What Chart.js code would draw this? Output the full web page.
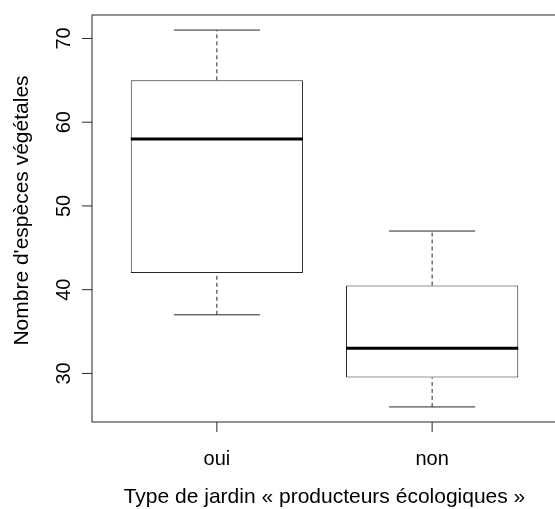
<!DOCTYPE html>
<html><head><meta charset="utf-8">
<script src="https://cdn.jsdelivr.net/npm/chart.js@4.4.1/dist/chart.umd.min.js"></script>
<style>
html,body{margin:0;padding:0;background:#fff;overflow:hidden}
#wrap{width:555px;height:509px;overflow:hidden;position:relative}
canvas{display:block}
</style>
</head><body>
<div id="wrap"><canvas id="c" width="558" height="509"></canvas></div>
<script>
// ---- data ----
const categories = ['oui', 'non'];
const minValues    = [37, 26];
const q1Values     = [42, 29.5];
const medianValues = [58, 33];
const q3Values     = [65, 40.5];
const maxValues    = [71, 47];
const yTickValues  = [30, 40, 50, 60, 70];
const yTickLabels  = ['30', '40', '50', '60', '70'];
const xTitle = 'Type de jardin « producteurs écologiques »';
const yTitle = "Nombre d'espèces végétales";

// ---- styling ----
const FONT = "'Liberation Sans', Arial, Helvetica, sans-serif";
const LINE = '#262626';
const BOX_HALF = 0.4, CAP_HALF = 0.2;

const pos = categories.map((c, i) => i + 1);
const datasets = [];
function seg(x1, y1, x2, y2, extra) {
  datasets.push(Object.assign({
    type: 'line',
    data: [{x: x1, y: y1}, {x: x2, y: y2}],
    borderColor: LINE, borderWidth: 1, pointRadius: 0,
    fill: false, tension: 0, order: 1
  }, extra || {}));
}
categories.forEach((c, i) => {
  const x = pos[i];
  seg(x, q3Values[i], x, maxValues[i], {borderDash: [4, 3]});
  seg(x, minValues[i], x, q1Values[i], {borderDash: [4, 3]});
  seg(x - CAP_HALF, maxValues[i], x + CAP_HALF, maxValues[i]);
  seg(x - CAP_HALF, minValues[i], x + CAP_HALF, minValues[i]);
  seg(x - BOX_HALF, medianValues[i], x + BOX_HALF, medianValues[i], {borderColor: '#000', borderWidth: 3, order: 0});
});
datasets.push({
  type: 'bar',
  data: categories.map((c, i) => ({x: pos[i], y: [q1Values[i], q3Values[i]]})),
  backgroundColor: '#fff', borderColor: LINE, borderWidth: 1, borderSkipped: false,
  barPercentage: 0.8, categoryPercentage: 1, order: 2
});

const axesPlugin = {
  id: 'rAxes',
  afterDraw(chart) {
    const ctx = chart.ctx, a = chart.chartArea;
    const xs = chart.scales.x, ys = chart.scales.y;
    ctx.save();
    ctx.strokeStyle = LINE; ctx.lineWidth = 1;
    ctx.strokeRect(a.left, a.top, a.right - a.left, a.bottom - a.top);
    ctx.fillStyle = '#000';
    ctx.font = '20px ' + FONT;
    // y ticks
    yTickValues.forEach((v, i) => {
      const y = ys.getPixelForValue(v);
      ctx.beginPath(); ctx.moveTo(a.left - 10, y); ctx.lineTo(a.left, y); ctx.stroke();
      ctx.save();
      ctx.translate(a.left - 22, y);
      ctx.rotate(-Math.PI / 2);
      ctx.textAlign = 'center'; ctx.textBaseline = 'alphabetic';
      ctx.fillText(yTickLabels[i], 0, 0);
      ctx.restore();
    });
    // x ticks
    categories.forEach((c, i) => {
      const x = xs.getPixelForValue(pos[i]);
      ctx.beginPath(); ctx.moveTo(x, a.bottom); ctx.lineTo(x, a.bottom + 10); ctx.stroke();
      ctx.textAlign = 'center'; ctx.textBaseline = 'alphabetic';
      ctx.fillText(c, x, a.bottom + 43);
    });
    // titles
    ctx.font = '21px ' + FONT;
    ctx.textAlign = 'center'; ctx.textBaseline = 'alphabetic';
    ctx.fillText(xTitle, (a.left + a.right) / 2, a.bottom + 81);
    ctx.save();
    ctx.translate(a.left - 64, (a.top + a.bottom) / 2 - 8);
    ctx.rotate(-Math.PI / 2);
    ctx.fillText(yTitle, 0, 0);
    ctx.restore();
    ctx.restore();
  }
};

new Chart(document.getElementById('c'), {
  type: 'bar',
  data: {datasets},
  options: {
    responsive: false, animation: false, devicePixelRatio: 1,
    layout: {padding: {left: 92, top: 15, right: 1, bottom: 87}},
    plugins: {legend: {display: false}, tooltip: {enabled: false}},
    scales: {
      x: {type: 'linear', min: 0.42, max: 2.58, offset: false, grace: 0, display: false,
          afterBuildTicks: s => { s.ticks = pos.map(v => ({value: v})); }},
      y: {type: 'linear', min: 24.2, max: 72.8, offset: false, grace: 0, display: false}
    }
  },
  plugins: [axesPlugin]
});
</script>
</body></html>
